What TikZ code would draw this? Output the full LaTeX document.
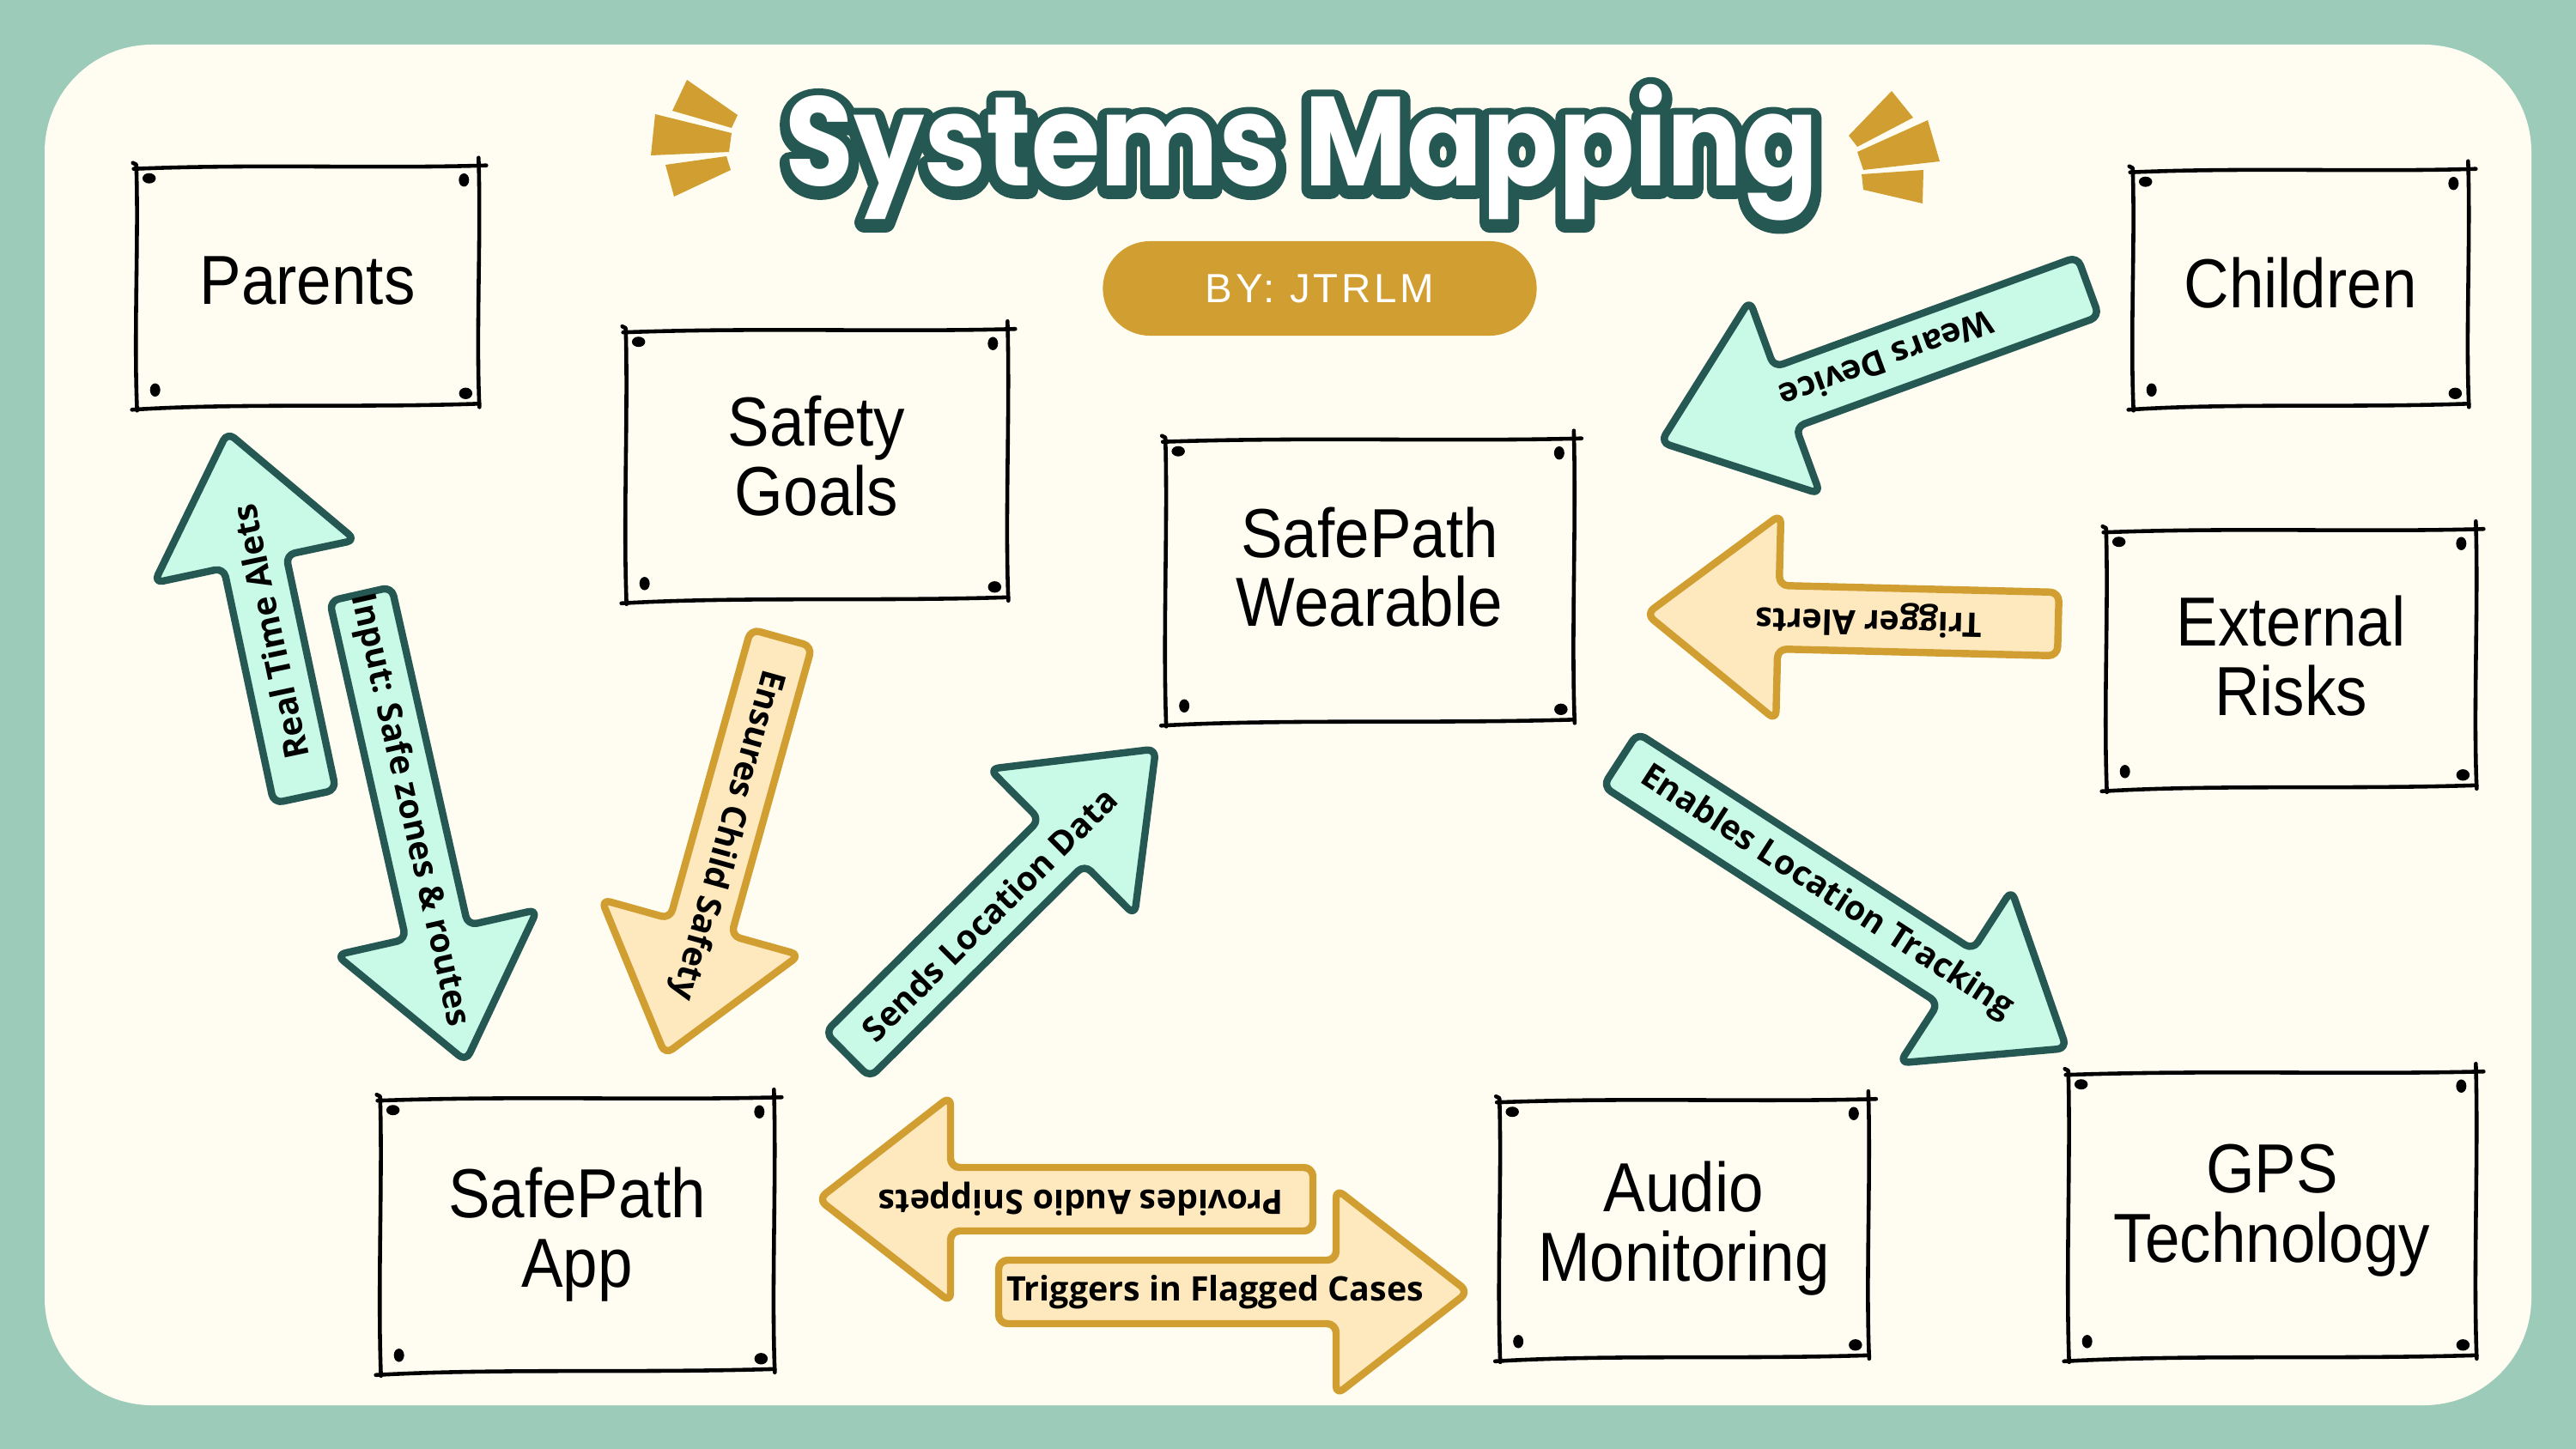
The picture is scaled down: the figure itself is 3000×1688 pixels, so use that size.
\documentclass[tikz,border=0pt]{standalone}
\usepackage{fontspec}
\setmainfont{Liberation Sans}
\newfontfamily\boxfont[FakeStretch=0.9]{Liberation Sans}
\newfontfamily\labelfont{Open Sans}
\newfontfamily\titlefont[FakeStretch=0.88]{Poppins}
\newfontfamily\titleoutlinefont[FakeStretch=0.88, FakeBold=16]{Poppins}
\newfontfamily\bylinefont[LetterSpace=8]{Liberation Sans}
\usetikzlibrary{calc}

\definecolor{bgteal}{HTML}{9CCBB9}
\definecolor{cream}{HTML}{FFFDF1}
\definecolor{darkteal}{HTML}{265853}
\definecolor{mint}{HTML}{C9FAE7}
\definecolor{gold}{HTML}{D09E31}
\definecolor{paleyellow}{HTML}{FEE8BE}

\tikzset{
  box/.style={rectangle, inner sep=0pt, align=center,
    font=\boxfont\fontsize{23}{23}\selectfont, text=black},
  sketch/.style={draw=black, line width=1.3pt, line cap=round, line join=round},
  mintarrow/.style={draw=darkteal, fill=mint, line width=2.4pt, line join=round, rounded corners=3pt},
  goldarrow/.style={draw=gold, fill=paleyellow, line width=2.4pt, line join=round, rounded corners=3pt},
  arrowlabel/.style={font=\labelfont\bfseries\fontsize{11.2}{13}\selectfont, text=black, inner sep=0pt},
  titletext/.style={font=\titlefont\bfseries\fontsize{42}{46}\selectfont, inner sep=0pt, anchor=base},
  titleoutline/.style={font=\titleoutlinefont\bfseries\fontsize{42}{46}\selectfont, inner sep=0pt,
    anchor=base, text=darkteal},
  pill/.style={fill=gold, rounded corners=0.55cm, minimum width=5.05cm, minimum height=1.1cm,
    inner sep=0pt, text=white, font=\bylinefont\fontsize{13.5}{15}\selectfont},
  ray/.style={fill=gold},
  % block arrow along the local x axis: #1 length, #2 label position, #3 label, #4 look
  pics/blockarrow/.style n args={4}{code={
    \path[#4] (0,0) -- (0,37) -- ({#1-154},37) -- ({#1-154},120) -- (#1,0)
      -- ({#1-154},-120) -- ({#1-154},-37) -- (0,-37) -- cycle;
    \node[arrowlabel, transform shape] (-label) at (#2,0) {#3};
  }},
}

% hand-drawn frame with pin dots around a node
\newcommand\sketchframe[1]{%
  \draw[sketch] ($(#1.north west)+(-3,3)$)
     .. controls ($(#1.north west)!0.35!(#1.north east)+(0,-3)$) and ($(#1.north west)!0.7!(#1.north east)+(0,3)$)
     .. ($(#1.north east)+(9,-1)$);
  \draw[sketch] ($(#1.north east)+(0,-10)$)
     .. controls ($(#1.north east)!0.3!(#1.south east)+(3,0)$) and ($(#1.north east)!0.7!(#1.south east)+(-3,0)$)
     .. ($(#1.south east)+(1,2)$);
  \draw[sketch] ($(#1.south east)+(1,-2)$)
     .. controls ($(#1.south east)!0.35!(#1.south west)+(0,3)$) and ($(#1.south east)!0.7!(#1.south west)+(0,-3)$)
     .. ($(#1.south west)+(-5,5)$);
  \draw[sketch] ($(#1.south west)+(1,6)$)
     .. controls ($(#1.south west)!0.3!(#1.north west)+(-3,0)$) and ($(#1.south west)!0.7!(#1.north west)+(3,0)$)
     .. ($(#1.north west)+(0,-2)$) -- ($(#1.north west)+(-4,-4)$);
  \fill ($(#1.north west)+(15,14)$) ellipse [x radius=2.2pt, y radius=1.7pt];
  \fill ($(#1.north east)+(-17,16)$) ellipse [x radius=1.7pt, y radius=2.2pt];
  \fill ($(#1.south west)+(22,-18)$) ellipse [x radius=1.7pt, y radius=2.2pt];
  \fill ($(#1.south east)+(-15,-14)$) ellipse [x radius=2.2pt, y radius=1.9pt];
}

\begin{document}
\begin{tikzpicture}[x=0.01cm, y=-0.01cm]
\useasboundingbox (0,0) rectangle (3000,1688);

% page background and panel
\fill[bgteal] (0,0) rectangle (3000,1688);
\fill[cream, rounded corners=1.25cm] (52,52) rectangle (2948,1637);

% title: thick outline sitting slightly low, white face on top
\coordinate (titlebase) at (1516,217);
\begin{scope}[line join=round]
  \node[titleoutline] (title-outline) at ($(titlebase)+(0,3)$) {Systems Mapping};
\end{scope}
\node[titletext, text=white] (title) at (titlebase) {Systems Mapping};

% sun rays beside the title
\fill[ray] (800,93) -- (859,134) -- (852,149) -- (783,129) -- cycle;
\fill[ray] (763,133) -- (852,155) -- (849,177) -- (758,181) -- cycle;
\fill[ray] (775,192) -- (846,182) -- (851,198) -- (785,229) -- cycle;
\fill[ray] (2203,106) -- (2228,137) -- (2163,171) -- (2153,158) -- cycle;
\fill[ray] (2245,140) -- (2259,188) -- (2170,198) -- (2163,177) -- cycle;
\fill[ray] (2168,203) -- (2240,198) -- (2239,237) -- (2170,221) -- cycle;

% byline
\node[pill] (byline) at (1537,336) {BY: JTRLM};

% system elements
\node[box, minimum width=3.97cm, minimum height=2.77cm, text depth=3.4pt] (parents) at (358,333) {Parents};
\node[box, minimum width=4.43cm, minimum height=3.12cm, text depth=5.6pt] (goals) at (951,541) {Safety\\Goals};
\node[box, minimum width=4.74cm, minimum height=3.27cm, text depth=9pt] (wearable) at (1595,676) {SafePath\\Wearable};
\node[box, minimum width=3.89cm, minimum height=2.73cm, text depth=3.4pt] (children) at (2679,335) {Children};
\node[box, minimum width=4.29cm, minimum height=2.98cm, text depth=2pt] (risks) at (2668,767) {External\\Risks};
\node[box, minimum width=4.57cm, minimum height=3.16cm] (app) at (672,1438) {SafePath\\App};
\node[box, minimum width=4.28cm, minimum height=2.98cm] (audio) at (1961,1431) {Audio\\Monitoring};
\node[box, minimum width=4.73cm, minimum height=3.30cm, text depth=7.6pt] (gps) at (2646,1415) {GPS\\Technology};

\foreach \n in {parents,goals,wearable,children,risks,app,audio,gps}{\sketchframe{\n}}

% relations
\pic[rotate=102] (alerts) at (355,928) {blockarrow={434}{196}{Real Time Alets}{mintarrow}};
\pic[rotate=-77.3] (input) at (420,692) {blockarrow={558}{258}{Input: Safe zones \& routes}{mintarrow}};
\pic[rotate=200] (wears) at (2432,334) {blockarrow={530}{250}{Wears Device}{mintarrow}};
\pic[rotate=-32.9] (enables) at (1887,885) {blockarrow={619}{286}{Enables Location Tracking}{mintarrow}};
\pic[rotate=44.8] (sends) at (987,1229) {blockarrow={506}{233}{Sends Location Data}{mintarrow}};
\pic[rotate=-105.6] (ensures) at (910,743) {blockarrow={504}{238}{Ensures Child Safety}{goldarrow}};
\pic[rotate=178.6] (trigger) at (2397,727) {blockarrow={480}{221}{Trigger Alerts}{goldarrow}};
\pic[rotate=180] (provides) at (1529,1397) {blockarrow={576}{270}{Provides Audio Snippets}{goldarrow}};
\pic[rotate=0] (flagged) at (1163,1505) {blockarrow={547}{252}{Triggers in Flagged Cases}{goldarrow}};

\end{tikzpicture}
\end{document}
